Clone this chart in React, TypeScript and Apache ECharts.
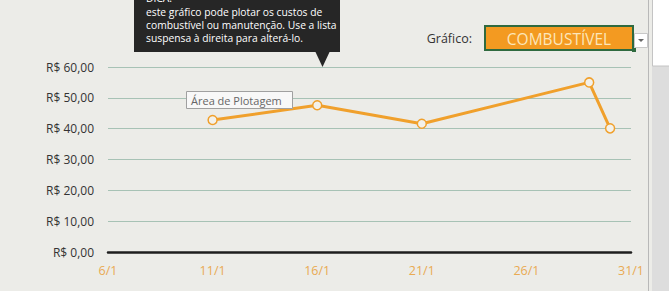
import React, { useEffect, useRef } from "react";
import * as echarts from "echarts";

const days = [11, 16, 21, 29, 30];
const costs = [42.8, 47.6, 41.6, 55.0, 40.1];
const xTicks = [6, 11, 16, 21, 26, 31];
const tipLines = [
  "este gráfico pode plotar os custos de",
  "combustível ou manutenção. Use a lista",
  "suspensa à direita para alterá-lo.",
];

const FONT = "'Open Sans', 'Noto Sans', sans-serif";

export default function App() {
  const ref = useRef<HTMLDivElement>(null);
  useEffect(() => {
    if (!ref.current) return;
    const chart = echarts.init(ref.current, null, { renderer: "svg" });
    chart.setOption({
      animation: false,
      backgroundColor: "#ECECE8",
      textStyle: { fontFamily: FONT },
      grid: { left: 108, right: 38, top: 67, bottom: 39 },
      xAxis: {
        type: "value",
        min: xTicks[0],
        max: xTicks[xTicks.length - 1],
        interval: 5,
        axisLine: { show: true, onZero: false, lineStyle: { color: "#1e1e1e", width: 2.5 } },
        axisTick: { show: false },
        splitLine: { show: false },
        axisLabel: {
          formatter: (v: number) => `${v}/1`,
          color: "#E9AA52",
          fontSize: 12.5,
          fontFamily: FONT,
          margin: 12,
        },
      },
      yAxis: {
        type: "value",
        min: 0,
        max: 60,
        interval: 10,
        axisLine: { show: false },
        axisTick: { show: false },
        splitLine: { lineStyle: { color: "#A7C2B5", width: 1 } },
        axisLabel: {
          formatter: (v: number) => "R$ " + v.toFixed(2).replace(".", ","),
          color: "#333333",
          fontSize: 12,
          fontFamily: FONT,
          margin: 14,
        },
      },
      series: [
        {
          type: "line",
          data: days.map((d, i) => [d, costs[i]]),
          symbol: "circle",
          symbolSize: 9,
          lineStyle: { color: "#F0A02C", width: 3 },
          itemStyle: { color: "#F3F1EA", borderColor: "#F0A02C", borderWidth: 1.5 },
          z: 3,
        },
      ],
      graphic: [
        // help tooltip (black callout)
        { type: "rect", shape: { x: 134, y: -6, width: 206, height: 58 }, style: { fill: "#262626" }, z: 10 },
        { type: "polygon", shape: { points: [[315, 51], [330, 51], [322.5, 67]] }, style: { fill: "#262626" }, z: 10 },
        {
          type: "text", x: 146, y: -7, z: 11,
          style: { text: "DICA:", fill: "#ffffff", font: `10.3px ${FONT}` },
        },
        ...tipLines.map((t, i) => ({
          type: "text", x: 146, y: 7 + i * 13, z: 11,
          style: { text: t, fill: "#ffffff", font: `10.3px ${FONT}` },
        })),
        // Plot area label
        { type: "rect", shape: { x: 186.5, y: 91.5, width: 106, height: 17 }, style: { fill: "#F8F8F8", stroke: "#A0A0A0", lineWidth: 1 }, z: 10 },
        {
          type: "text", x: 191, y: 100, z: 11,
          style: { text: "Área de Plotagem", fill: "#666666", font: `11px ${FONT}`, textVerticalAlign: "middle" },
        },
        // dropdown
        {
          type: "text", x: 472, y: 38, z: 11,
          style: { text: "Gráfico:", fill: "#333333", font: `12.5px ${FONT}`, textAlign: "right", textVerticalAlign: "middle" },
        },
        { type: "rect", shape: { x: 485, y: 26, width: 148, height: 24 }, style: { fill: "#F39A21", stroke: "#2F6A3F", lineWidth: 2 }, z: 10 },
        { type: "rect", shape: { x: 632, y: 48, width: 4, height: 4 }, style: { fill: "#2F6A3F" }, z: 12 },
        {
          type: "text", x: 559, y: 38.5, z: 11,
          style: { text: "COMBUSTÍVEL", fill: "#FCE6BA", font: `15.5px ${FONT}`, textAlign: "center", textVerticalAlign: "middle" },
        },
        { type: "rect", shape: { x: 634.5, y: 33.5, width: 13, height: 14 }, style: { fill: "#FFFFFF", stroke: "#C8C8C8", lineWidth: 1 }, z: 10 },
        { type: "polygon", shape: { points: [[638, 39], [644, 39], [641, 42]] }, style: { fill: "#666666" }, z: 11 },
        // right edge panes
        { type: "line", shape: { x1: 648.5, y1: 0, x2: 648.5, y2: 291 }, style: { stroke: "#B8B8B8", lineWidth: 1 }, z: 10 },
        { type: "rect", shape: { x: 652, y: 0, width: 17, height: 291 }, style: { fill: "#DDDDDD" }, z: 10 },
        { type: "rect", shape: { x: 652.5, y: -1, width: 17, height: 67 }, style: { fill: "#FFFFFF", stroke: "#C4C4C4", lineWidth: 1 }, z: 11 },
      ],
    });
    return () => chart.dispose();
  }, []);
  return (
    <div
      ref={ref}
      style={{ position: "fixed", left: 0, top: 0, width: 669, height: 291 }}
    />
  );
}
